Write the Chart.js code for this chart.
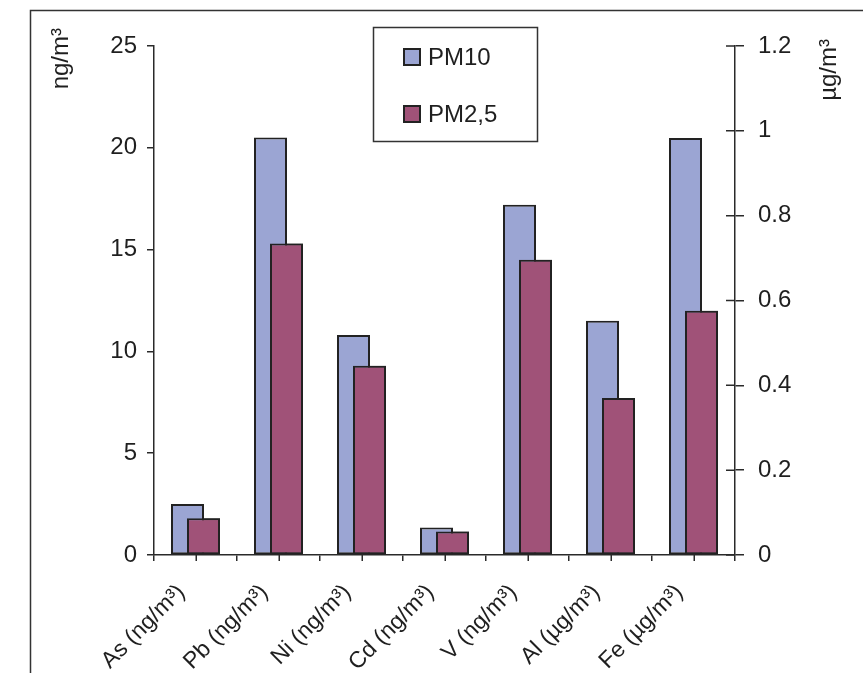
<!DOCTYPE html>
<html>
<head>
<meta charset="utf-8">
<script src="https://cdn.jsdelivr.net/npm/chart.js@4/dist/chart.umd.min.js"></script>
<style>html,body{margin:0;padding:0;background:#fff;overflow:hidden}canvas{display:block}</style>
</head>
<body>
<canvas id="c" width="863" height="673"></canvas>
<script>
// ---- data ----
const categories = ['As (ng/m³)', 'Pb (ng/m³)', 'Ni (ng/m³)', 'Cd (ng/m³)', 'V (ng/m³)', 'Al (µg/m³)', 'Fe (µg/m³)'];
const categoryUnits = ['ng', 'ng', 'ng', 'ng', 'ng', 'µg', 'µg'];
const pm10Values = [2.5, 20.5, 10.8, 1.35, 17.2, 0.552, 0.983];
const pm25Values = [1.8, 15.3, 9.3, 1.15, 14.5, 0.37, 0.576];
const seriesNames = ['PM10', 'PM2,5'];
const leftTickValues = [0, 5, 10, 15, 20, 25];
const rightTickValues = [0, 0.2, 0.4, 0.6, 0.8, 1, 1.2];
const leftAxisTitle = 'ng/m³';
const rightAxisTitle = 'µg/m³';

// ---- styles ----
const FAMILY = "'Liberation Sans', Arial, Helvetica, sans-serif";
const INK = '#2a2a2a';
const TEXT = '#1f1f1f';
const seriesColors = ['#9ba5d3', '#a05278'];

function pick(values, unit) {
  return values.map((v, i) => categoryUnits[i] === unit ? v : null);
}
function makeSet(sIdx, unit, axis) {
  return {
    label: seriesNames[sIdx],
    data: pick(sIdx === 0 ? pm10Values : pm25Values, unit),
    yAxisID: axis,
    backgroundColor: seriesColors[sIdx],
    borderColor: '#222',
    borderWidth: 2,
    borderSkipped: false,
    skipNull: true,
    categoryPercentage: 0.3855,
    barPercentage: 2.0625,
    inLegend: unit === 'ng',
    onTop: sIdx === 1
  };
}
const datasets = [
  makeSet(0, 'ng', 'y'), makeSet(1, 'ng', 'y'),
  makeSet(0, 'µg', 'y2'), makeSet(1, 'µg', 'y2')
];

// ---- plugins ----
const background = {
  id: 'background',
  beforeDraw(chart) {
    const ctx = chart.ctx;
    ctx.save();
    ctx.fillStyle = '#fff';
    ctx.fillRect(0, 0, chart.width, chart.height);
    ctx.strokeStyle = '#333';
    ctx.lineWidth = 1.5;
    ctx.beginPath();
    ctx.moveTo(30.5, chart.height);
    ctx.lineTo(30.5, 10.5);
    ctx.lineTo(chart.width, 10.5);
    ctx.stroke();
    ctx.restore();
  }
};

const overlapOnTop = {
  id: 'overlapOnTop',
  afterDatasetsDraw(chart) {
    chart.data.datasets.forEach((ds, i) => {
      if (ds.onTop && chart.isDatasetVisible(i)) {
        chart.getDatasetMeta(i).controller.draw();
      }
    });
  }
};

const extraTicks = {
  id: 'extraTicks',
  afterDraw(chart) {
    const ctx = chart.ctx;
    const xs = chart.scales.x, y2 = chart.scales.y2;
    ctx.save();
    ctx.strokeStyle = INK;
    ctx.lineWidth = 1.5;
    ctx.beginPath();
    categories.forEach((c, i) => {
      const px = Math.round(xs.getPixelForValue(i)) + 0.25;
      ctx.moveTo(px, chart.chartArea.bottom);
      ctx.lineTo(px, chart.chartArea.bottom + 6);
    });
    y2.ticks.forEach(t => {
      const py = y2.getPixelForValue(t.value);
      ctx.moveTo(y2.left - 9, py);
      ctx.lineTo(y2.left, py);
    });
    ctx.stroke();
    ctx.restore();
  }
};

const axisTitles = {
  id: 'axisTitles',
  afterDraw(chart) {
    const ctx = chart.ctx;
    const ca = chart.chartArea;
    ctx.save();
    ctx.fillStyle = TEXT;
    ctx.font = '24px ' + FAMILY;
    ctx.textAlign = 'right';
    ctx.textBaseline = 'alphabetic';
    ctx.save();
    ctx.translate(68, ca.top - 18);
    ctx.rotate(-Math.PI / 2);
    ctx.fillText(leftAxisTitle, 0, 0);
    ctx.restore();
    ctx.save();
    ctx.translate(ca.right + 101, ca.top - 7);
    ctx.rotate(-Math.PI / 2);
    ctx.fillText(rightAxisTitle, 0, 0);
    ctx.restore();
    ctx.restore();
  }
};

const boxLegend = {
  id: 'boxLegend',
  afterDraw(chart) {
    const ctx = chart.ctx;
    const items = chart.data.datasets.filter(d => d.inLegend);
    const bx = 373.5, by = 27.5, bw = 164, bh = 114;
    ctx.save();
    ctx.strokeStyle = '#333';
    ctx.lineWidth = 1.5;
    ctx.strokeRect(bx, by, bw, bh);
    ctx.font = '24px ' + FAMILY;
    ctx.textBaseline = 'middle';
    ctx.textAlign = 'left';
    items.forEach((d, i) => {
      const cy = 57 + i * 57;
      ctx.fillStyle = d.backgroundColor;
      ctx.fillRect(404, cy - 8, 16, 16);
      ctx.strokeStyle = '#222';
      ctx.lineWidth = 2;
      ctx.strokeRect(404, cy - 8, 16, 16);
      ctx.fillStyle = TEXT;
      ctx.fillText(d.label, 428, cy + 1);
    });
    ctx.restore();
  }
};

// ---- chart ----
const tickFont = { family: FAMILY, size: 24 };

new Chart(document.getElementById('c'), {
  type: 'bar',
  data: { labels: categories, datasets },
  options: {
    responsive: false,
    animation: false,
    devicePixelRatio: 1,
    layout: { padding: { top: 46, left: 0, right: 0, bottom: 0 } },
    plugins: { legend: { display: false }, tooltip: { enabled: false } },
    scales: {
      x: {
        type: 'category',
        offset: true,
        grid: { offset: true, drawOnChartArea: false, drawTicks: true, tickLength: 6, color: INK, lineWidth: 1.5 },
        border: { color: INK, width: 1.5 },
        ticks: { color: TEXT, font: { family: FAMILY, size: 23 }, minRotation: 45, maxRotation: 45, autoSkip: false, padding: 18, labelOffset: -14 },
        afterFit(s) { s.height = 118; }
      },
      y: {
        position: 'left',
        min: 0, max: 25,
        afterBuildTicks(s) { s.ticks = leftTickValues.map(v => ({ value: v })); },
        grid: { drawOnChartArea: false, drawTicks: true, tickLength: 7, color: INK, lineWidth: 1.5 },
        border: { color: INK, width: 1.5 },
        ticks: { color: TEXT, font: tickFont, padding: 10 },
        afterFit(s) { s.width = 154; }
      },
      y2: {
        position: 'right',
        min: 0, max: 1.2,
        afterBuildTicks(s) { s.ticks = rightTickValues.map(v => ({ value: v })); },
        grid: { drawOnChartArea: false, drawTicks: true, tickLength: 9, color: INK, lineWidth: 1.5 },
        border: { color: INK, width: 1.5 },
        ticks: { color: TEXT, font: tickFont, padding: 14, callback: v => String(+v.toFixed(1)) },
        afterFit(s) { s.width = 128; }
      }
    }
  },
  plugins: [background, overlapOnTop, extraTicks, axisTitles, boxLegend]
});
</script>
</body>
</html>
